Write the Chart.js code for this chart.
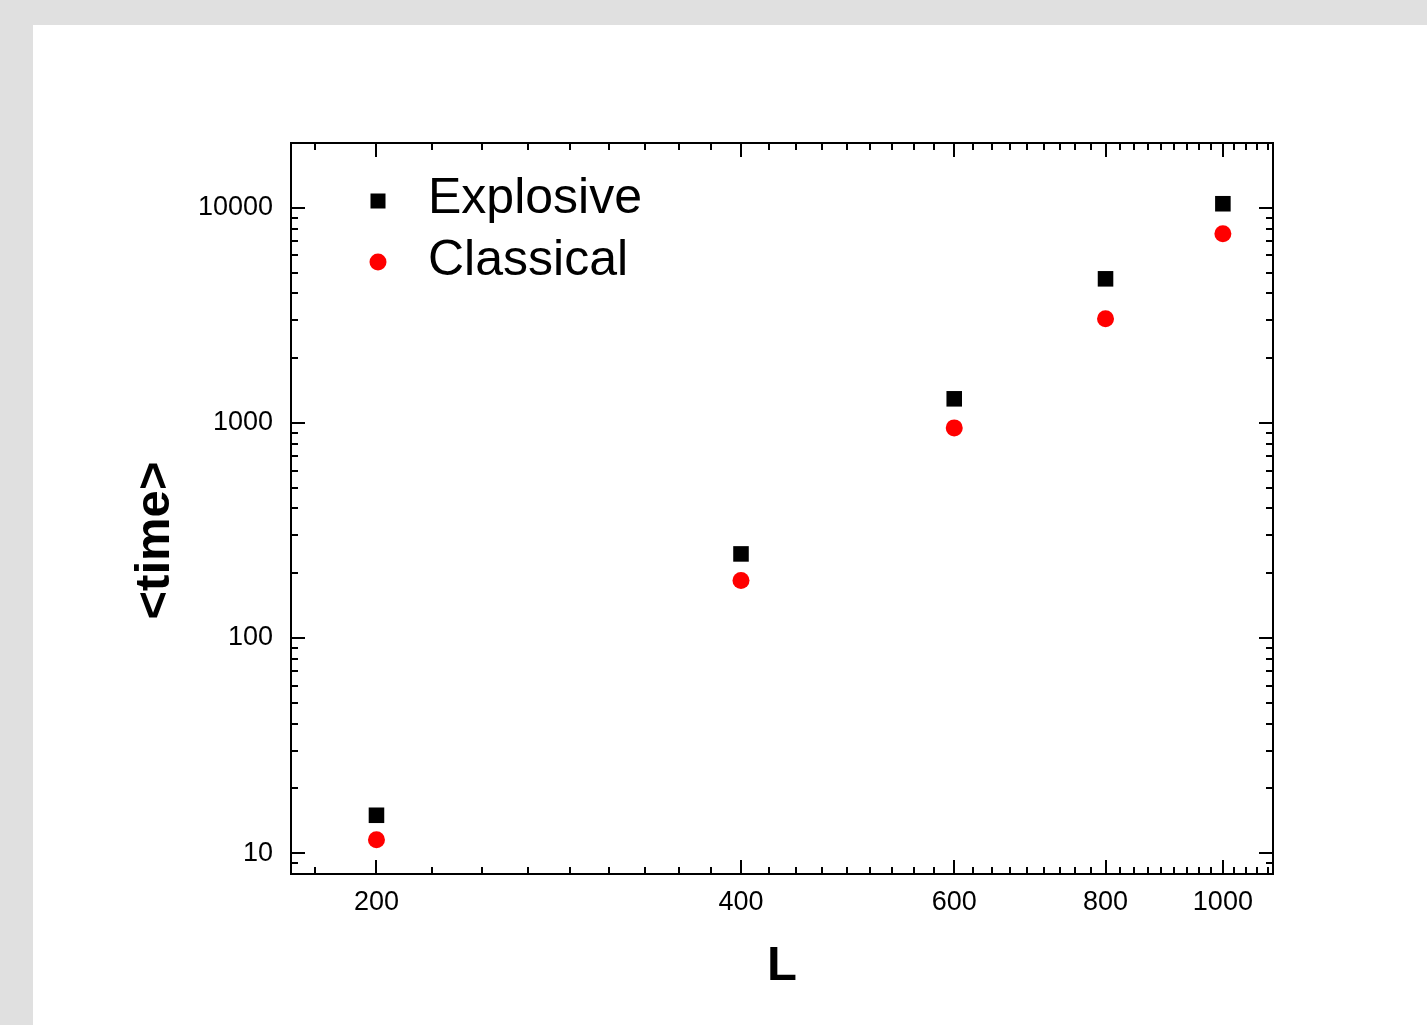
<!DOCTYPE html>
<html>
<head>
<meta charset="utf-8">
<script src="https://cdn.jsdelivr.net/npm/chart.js@4.4.1/dist/chart.umd.min.js"></script>
<style>
  html, body { margin: 0; padding: 0; background: #e0e0e0; width: 1427px; height: 1025px; overflow: hidden; }
  #panel { position: absolute; left: 33px; top: 25px; width: 1394px; height: 1000px; background: #ffffff; }
  canvas { display: block; }
</style>
</head>
<body>
<div id="panel"><canvas id="c" width="1394" height="1000"></canvas></div>
<script>
// ---- data ----
const L = [200, 400, 600, 800, 1000];
const explosive = [15, 246, 1294, 4674, 10440];
const classical = [11.55, 185, 948, 3047, 7570];
const xTickLabels = [200, 400, 600, 800, 1000];
const yTickLabels = [10, 100, 1000, 10000];
const xRange = [170, 1100];
const yRange = [8, 20000];
const yTitle = '<time>';

const FONT = "Arial, 'Liberation Sans', sans-serif";

// minor tick values (styling helpers)
function xMinorTicks() {
  const out = [];
  const step = xTickLabels[1] - xTickLabels[0];
  for (let base = xTickLabels[0] - step; base <= xTickLabels[xTickLabels.length - 1]; base += step) {
    for (let j = 1; j < 9; j++) {
      const v = base + j * step / 9;
      if (v > xRange[0] && v < xRange[1]) out.push(v);
    }
  }
  return out;
}
function yMinorTicks() {
  const out = [];
  for (let d = 1; d <= 10000; d *= 10) {
    for (let m = 2; m <= 9; m++) {
      const v = m * d;
      if (v > yRange[0] && v < yRange[1]) out.push(v);
    }
  }
  return out;
}

const framePlugin = {
  id: 'frame',
  afterDraw(chart) {
    const { ctx, chartArea: ca } = chart;
    const xs = chart.scales.x, ys = chart.scales.y;
    ctx.save();
    ctx.strokeStyle = '#000';
    ctx.lineWidth = 2;
    ctx.lineCap = 'butt';
    const drawX = (v, len) => {
      const px = Math.round(xs.getPixelForValue(v));
      ctx.beginPath();
      ctx.moveTo(px, ca.bottom); ctx.lineTo(px, ca.bottom - len);
      ctx.moveTo(px, ca.top); ctx.lineTo(px, ca.top + len);
      ctx.stroke();
    };
    const drawY = (v, len) => {
      const py = Math.round(ys.getPixelForValue(v));
      ctx.beginPath();
      ctx.moveTo(ca.left, py); ctx.lineTo(ca.left + len, py);
      ctx.moveTo(ca.right, py); ctx.lineTo(ca.right - len, py);
      ctx.stroke();
    };
    xTickLabels.forEach(v => drawX(v, 14));
    xMinorTicks().forEach(v => drawX(v, 7));
    yTickLabels.forEach(v => drawY(v, 14));
    yMinorTicks().forEach(v => drawY(v, 7));
    ctx.strokeRect(ca.left, ca.top, ca.right - ca.left, ca.bottom - ca.top);

    // y axis title (offset below axis centre as in the original)
    ctx.save();
    ctx.translate(ca.left - 135.5, (ca.top + ca.bottom) / 2 + 32);
    ctx.rotate(-Math.PI / 2);
    ctx.fillStyle = '#000';
    ctx.font = 'bold 49px ' + FONT;
    ctx.textAlign = 'center';
    ctx.textBaseline = 'middle';
    ctx.fillText(yTitle, 0, 0);
    ctx.restore();

    // legend
    const lx = ca.left + 87;
    const tx = ca.left + 137;
    ctx.fillStyle = '#000';
    ctx.fillRect(lx - 7.5, ca.top + 58 - 7.5, 15, 15);
    ctx.fillStyle = '#ff0000';
    ctx.beginPath();
    ctx.arc(lx, ca.top + 119, 8.5, 0, Math.PI * 2);
    ctx.fill();
    ctx.fillStyle = '#000';
    ctx.font = '50px ' + FONT;
    ctx.textBaseline = 'alphabetic';
    ctx.textAlign = 'left';
    ctx.fillText(chart.data.datasets[0].label, tx, ca.top + 70);
    ctx.fillText(chart.data.datasets[1].label, tx, ca.top + 132);
    ctx.restore();
  }
};

new Chart(document.getElementById('c'), {
  type: 'scatter',
  data: {
    datasets: [
      {
        label: 'Explosive',
        data: L.map((x, i) => ({ x: x, y: explosive[i] })),
        pointStyle: 'rect',
        pointRadius: 11,
        borderWidth: 0,
        backgroundColor: '#000000',
        borderColor: '#000000'
      },
      {
        label: 'Classical',
        data: L.map((x, i) => ({ x: x, y: classical[i] })),
        pointStyle: 'circle',
        pointRadius: 8.5,
        borderWidth: 0,
        backgroundColor: '#ff0000',
        borderColor: '#ff0000'
      }
    ]
  },
  options: {
    responsive: false,
    animation: false,
    devicePixelRatio: 1,
    layout: { padding: { top: 118, right: 154, left: 0, bottom: 0 } },
    plugins: { legend: { display: false }, tooltip: { enabled: false } },
    scales: {
      x: {
        type: 'logarithmic',
        min: xRange[0], max: xRange[1],
        grid: { display: false, drawTicks: false },
        border: { display: false },
        afterBuildTicks: (s) => { s.ticks = xTickLabels.map(v => ({ value: v })); },
        afterFit: (s) => { s.height = 151; },
        ticks: {
          autoSkip: false, maxRotation: 0, padding: 15,
          color: '#000',
          font: { family: FONT, size: 27, lineHeight: 1 },
          callback: (v) => String(v)
        },
        title: {
          display: true, text: 'L', color: '#000',
          font: { family: FONT, size: 49, weight: 'bold', lineHeight: 1 },
          padding: { top: 0, bottom: 34.5 }
        }
      },
      y: {
        type: 'logarithmic',
        min: yRange[0], max: yRange[1],
        grid: { display: false, drawTicks: false },
        border: { display: false },
        afterBuildTicks: (s) => { s.ticks = yTickLabels.map(v => ({ value: v })); },
        afterFit: (s) => { s.width = 258; },
        ticks: {
          autoSkip: false, padding: 18,
          color: '#000',
          font: { family: FONT, size: 27, lineHeight: 1 },
          callback: (v) => String(v)
        },
        title: { display: false }
      }
    }
  },
  plugins: [framePlugin]
});
</script>
</body>
</html>
